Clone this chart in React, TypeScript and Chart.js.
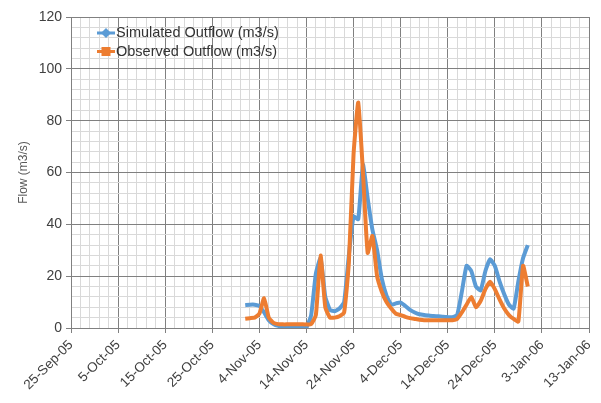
import React, { useEffect, useRef } from 'react';
import { Chart, registerables } from 'chart.js';

Chart.register(...registerables);

// Axis starts 25-Sep-2005; series start 1-Nov-2005 (daily values)
const axisStart = [2005, 8, 25];
const seriesStart = [2005, 10, 1];
const xMaxDays = 110;
const xMajorStep = 10;
const xMinorStep = 2;
const yMax = 120;
const yMajorStep = 20;
const yMinorStep = 4;

const seriesLabels = ['Simulated Outflow (m3/s)', 'Observed Outflow (m3/s)'];

const simulated = [
  8.8, 9, 9, 8.5, 6, 3, 1.5, 0.8, 0.6, 0.5,
  0.5, 0.4, 0.3, 0.2, 5, 21, 27, 12, 7, 6.5,
  7.5, 10, 28, 43, 42, 63, 50, 38, 30, 19,
  12.5, 9, 9.5, 9.8, 8.5, 7, 6, 5.3, 5, 4.8,
  4.6, 4.5, 4.3, 4.2, 4.2, 5, 14, 24, 22, 16,
  14.5, 22, 26.5, 24, 18, 13, 9, 7.5, 18, 27,
  32,
];

const observed = [
  3.6, 3.8, 4, 5.5, 11.5, 4, 2, 1.5, 1.4, 1.4,
  1.4, 1.4, 1.4, 1.4, 1.5, 5, 28, 8, 4, 4,
  4.5, 6, 25, 67, 87, 60, 29, 35.5, 20, 14,
  10, 7.5, 5.5, 5, 4.3, 3.8, 3.5, 3.2, 3, 3,
  3, 3, 3, 3, 3, 3.5, 6, 9, 12, 8,
  10.5, 15, 17.8, 15, 11, 7.5, 5, 3.5, 2.5, 24,
  16,
];

const MONTHS = ['Jan', 'Feb', 'Mar', 'Apr', 'May', 'Jun', 'Jul', 'Aug', 'Sep', 'Oct', 'Nov', 'Dec'];
const DAY_MS = 86400000;
const axisStartMs = Date.UTC(axisStart[0], axisStart[1], axisStart[2]);
const seriesOffset = Math.round((Date.UTC(seriesStart[0], seriesStart[1], seriesStart[2]) - axisStartMs) / DAY_MS);

function formatDay(offset: number): string {
  const d = new Date(axisStartMs + offset * DAY_MS);
  return `${d.getUTCDate()}-${MONTHS[d.getUTCMonth()]}-${String(d.getUTCFullYear()).slice(2)}`;
}

const COLORS = ['#5B9BD5', '#ED7D31'];
const MAJOR = '#808080';
const MINOR = '#d9d9d9';

const insideLegend = {
  id: 'insideLegend',
  afterDraw(chart: any) {
    const ctx = chart.ctx as CanvasRenderingContext2D;
    const left = chart.chartArea.left;
    const top = chart.chartArea.top;
    chart.data.datasets.forEach((ds: any, i: number) => {
      const y = top + 16 + i * 18.5;
      const x0 = left + 26;
      const x1 = left + 44;
      const xm = (x0 + x1) / 2;
      ctx.save();
      ctx.strokeStyle = ds.borderColor;
      ctx.fillStyle = ds.borderColor;
      ctx.lineWidth = 3;
      ctx.beginPath();
      ctx.moveTo(x0, y);
      ctx.lineTo(x1, y);
      ctx.stroke();
      if (i === 0) {
        ctx.beginPath();
        ctx.moveTo(xm, y - 5);
        ctx.lineTo(xm + 5, y);
        ctx.lineTo(xm, y + 5);
        ctx.lineTo(xm - 5, y);
        ctx.closePath();
        ctx.fill();
      } else {
        ctx.fillRect(xm - 4.5, y - 4.5, 9, 9);
      }
      ctx.fillStyle = '#333333';
      ctx.font = '14.5px "Liberation Sans", sans-serif';
      ctx.textBaseline = 'middle';
      ctx.textAlign = 'left';
      ctx.fillText(ds.label, x1 + 1, y);
      ctx.restore();
    });
  },
};

export default function App() {
  const ref = useRef<HTMLCanvasElement | null>(null);

  useEffect(() => {
    if (!ref.current) return;
    const chart = new Chart(ref.current, {
      type: 'line',
      data: {
        datasets: [
          {
            label: seriesLabels[0],
            data: simulated.map((v, i) => ({ x: seriesOffset + i, y: v })),
            borderColor: COLORS[0],
            backgroundColor: COLORS[0],
            borderWidth: 4,
            pointRadius: 0,
            tension: 0.15,
            order: 1,
          },
          {
            label: seriesLabels[1],
            data: observed.map((v, i) => ({ x: seriesOffset + i, y: v })),
            borderColor: COLORS[1],
            backgroundColor: COLORS[1],
            borderWidth: 4,
            pointRadius: 0,
            tension: 0.15,
            order: 0,
          },
        ],
      },
      options: {
        responsive: false,
        animation: false,
        layout: { padding: { top: 17, right: 12, left: 0, bottom: 0 } },
        plugins: {
          legend: { display: false },
          tooltip: { enabled: false },
        },
        scales: {
          x: {
            type: 'linear',
            min: 0,
            max: xMaxDays,
            afterFit(scale: any) {
              scale.height = 75;
              scale.paddingRight = 0;
            },
            ticks: {
              stepSize: xMinorStep,
              autoSkip: false,
              maxRotation: 45,
              minRotation: 45,
              color: '#404040',
              font: { family: '"Liberation Sans", sans-serif', size: 13.5 },
              padding: 4,
              callback: (value: any) => (Number(value) % xMajorStep === 0 ? formatDay(Number(value)) : ''),
            },
            grid: {
              color: (c: any) => (c.tick && c.tick.value % xMajorStep === 0 ? MAJOR : MINOR),
              tickColor: (c: any) => (c.tick && c.tick.value % xMajorStep === 0 ? MAJOR : 'rgba(0,0,0,0)'),
              tickLength: 5,
              lineWidth: 1,
            },
            border: { color: MAJOR, width: 1 },
          },
          y: {
            min: 0,
            max: yMax,
            afterFit(scale: any) {
              scale.width = 71;
            },
            title: {
              display: true,
              text: 'Flow (m3/s)',
              color: '#595959',
              font: { family: '"Liberation Sans", sans-serif', size: 12 },
              padding: { top: 16, bottom: 0 },
            },
            ticks: {
              stepSize: yMinorStep,
              autoSkip: false,
              color: '#404040',
              font: { family: '"Liberation Sans", sans-serif', size: 14 },
              padding: 4,
              callback: (value: any) => (Number(value) % yMajorStep === 0 ? String(value) : ''),
            },
            grid: {
              color: (c: any) => (c.tick && c.tick.value % yMajorStep === 0 ? MAJOR : MINOR),
              tickColor: (c: any) => (c.tick && c.tick.value % yMajorStep === 0 ? MAJOR : 'rgba(0,0,0,0)'),
              tickLength: 5,
              lineWidth: 1,
            },
            border: { color: MAJOR, width: 1 },
          },
        },
      },
      plugins: [insideLegend],
    });
    return () => chart.destroy();
  }, []);

  return (
    <div style={{ position: 'fixed', left: 0, top: 0, width: 601, height: 403, background: '#fff' }}>
      <canvas ref={ref} width={601} height={403} />
    </div>
  );
}
